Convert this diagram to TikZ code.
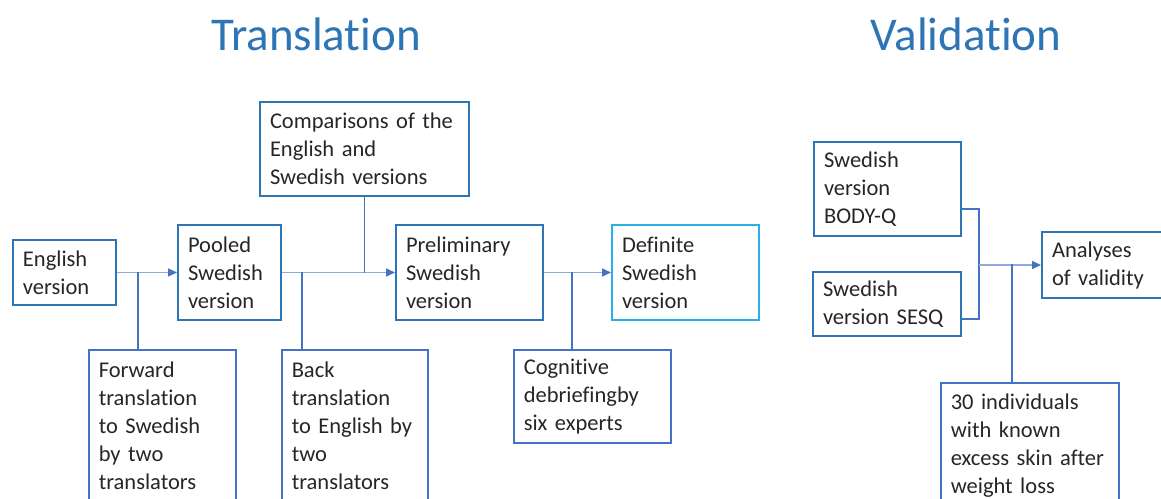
\documentclass[tikz,border=0pt]{standalone}
\usepackage{fontspec}
\setmainfont{Carlito}[Ligatures=NoCommon]
\usetikzlibrary{arrows.meta}
\definecolor{titleblue}{HTML}{2E75B6}
\definecolor{boxblue}{HTML}{2E75B6}
\definecolor{subblue}{HTML}{4472C4}
\definecolor{lightbox}{HTML}{29B0E6}
\definecolor{hblue}{HTML}{8FAADC}

\begin{document}
\begin{tikzpicture}[x=1pt, y=-1pt,
    box/.style={draw=boxblue, line width=2pt, anchor=north west, align=left,
      inner xsep=10pt, font=\fontsize{22.5}{28}\selectfont, text=black!85},
    subbox/.style={box, draw=subblue, line width=1.5pt},
    title/.style={text=titleblue, font=\fontsize{47}{47}\selectfont},
    hline/.style={draw=hblue, line width=1.5pt},
    vline/.style={draw=subblue, line width=1.2pt},
    flow/.style={hline, -{Triangle[length=9pt, width=8pt, color=subblue]}}]

      \clip (0, 0) rectangle (1161, 498);

      \node[title] (ttrans) at (316, 34) {Translation};
      \node[title] (tvalid) at (966, 34) {Validation};

      % translation
      \node[box, text width=83, minimum height=65] (eng) at (12, 239) {English\\version};
      \node[box, text width=83, minimum height=95] (pool) at (177, 224) {Pooled\\Swedish\\version};
      \node[box, text width=189, minimum height=94] (comp) at (259, 101) {Comparisons of the\\English and\\Swedish versions};
      \node[box, text width=127, minimum height=95] (prel) at (395, 224) {Preliminary\\Swedish\\version};
      \node[box, draw=lightbox, text width=127, minimum height=95] (defi) at (611, 224) {Definite\\Swedish\\version};
      \node[subbox, text width=127, minimum height=152] (fwd) at (88, 349) {Forward\\translation\\to Swedish\\by two\\translators};
      \node[subbox, text width=126, minimum height=152] (back) at (281, 349) {Back\\translation\\to English by\\two\\translators};
      \node[subbox, text width=137, minimum height=93] (cogn) at (513, 349) {Cognitive\\debriefingby\\six experts};

      \coordinate (j1) at (138, 271.5);
      \coordinate (j2) at (302, 271.5);
      \coordinate (j3) at (572, 271.5);

      \draw[flow] (eng.east) -- (pool.west);
      \draw[flow] (pool.east) -- (prel.west);
      \draw[flow] (prel.east) -- (defi.west);
      \draw[vline] (j1) -- (j1 |- fwd.north);
      \draw[vline] (j2) -- (j2 |- back.north);
      \draw[vline] (comp.south) -- (comp.south |- prel.west);
      \draw[vline] (j3) -- (j3 |- cogn.north);

      % validation
      \node[box, text width=127, minimum height=94] (bodyq) at (813, 141) {Swedish\\version\\BODY-Q};
      \node[box, text width=128, minimum height=64] (sesq) at (812, 271) {Swedish\\version SESQ};
      \node[box, text width=110, minimum height=66] (anly) at (1041, 231) {Analyses\\of validity};
      \node[subbox, text width=158, minimum height=125] (indiv) at (940, 382) {30 individuals\\with known\\excess skin after\\weight loss};

      \coordinate (m1) at (979, 209);
      \coordinate (m2) at (979, 319);
      \coordinate (j4) at (1012, 264);

      \draw[vline] (m1 -| bodyq.east) -- (m1) -- (m2) -- (m2 -| sesq.east);
      \draw[flow] (anly.west -| m1) -- (anly.west);
      \draw[vline] (j4) -- (j4 |- indiv.north);

\end{tikzpicture}
\end{document}
